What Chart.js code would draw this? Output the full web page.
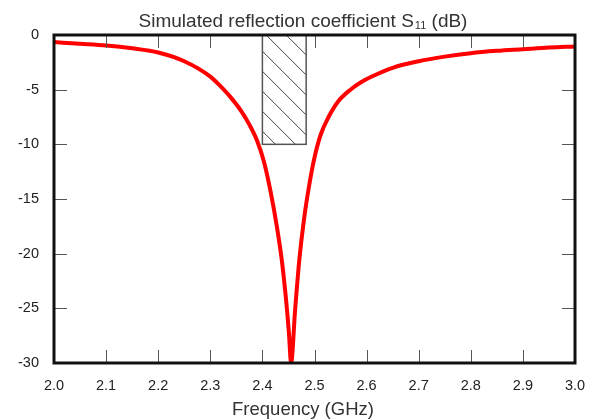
<!DOCTYPE html>
<html>
<head>
<meta charset="utf-8">
<script src="https://cdn.jsdelivr.net/npm/chart.js@4.4.1/dist/chart.umd.min.js"></script>
<style>
  html, body { margin: 0; padding: 0; background: #fff; }
</style>
</head>
<body>
<canvas id="chart" width="602" height="420"></canvas>
<script>
// values
const freqGHz = [2.00, 2.05, 2.10, 2.15, 2.20, 2.25, 2.30, 2.32, 2.34, 2.36, 2.375, 2.39, 2.403, 2.416, 2.428, 2.437, 2.445, 2.451, 2.455,
                 2.463, 2.471, 2.48, 2.49, 2.50, 2.512, 2.527, 2.545, 2.569, 2.59, 2.61, 2.65, 2.70, 2.75, 2.80, 2.85, 2.90, 2.95, 3.00];
const s11dB = [-0.65, -0.8, -0.96, -1.22, -1.6, -2.4, -3.8, -4.7, -5.75, -7.0, -8.2, -9.7, -11.6, -14.4, -17.6, -20.5, -24.0, -27.3, -30.0,
               -25.0, -20.5, -16.8, -13.7, -11.2, -9.1, -7.5, -6.1, -5.0, -4.3, -3.8, -3.0, -2.4, -1.98, -1.66, -1.45, -1.3, -1.15, -1.05];

// hatched band (2.4 GHz band, -10 dB limit)
const maskFreq = [2.40, 2.484];
const maskDb = [0, -10];

const xTicks = [2.0, 2.1, 2.2, 2.3, 2.4, 2.5, 2.6, 2.7, 2.8, 2.9, 3.0];
const yTicks = [0, -5, -10, -15, -20, -25, -30];

const FONT = "'Liberation Sans', Arial, sans-serif";
const TEXT_CX = 303;

const maskPlugin = {
  id: 'mask',
  beforeDatasetsDraw(chart) {
    const { ctx, scales: { x, y } } = chart;
    const x0 = x.getPixelForValue(maskFreq[0]), x1 = x.getPixelForValue(maskFreq[1]);
    const y0 = y.getPixelForValue(maskDb[0]), y1 = y.getPixelForValue(maskDb[1]);
    ctx.save();
    ctx.beginPath();
    ctx.rect(x0, y0, x1 - x0, y1 - y0);
    ctx.clip();
    ctx.strokeStyle = '#444';
    ctx.lineWidth = 1;
    ctx.beginPath();
    for (let k = y0 - (x1 - x0) - 40; k < y1 + 20; k += 20) {
      ctx.moveTo(x0, k);
      ctx.lineTo(x0 + 200, k + 200);
    }
    ctx.stroke();
    ctx.restore();
    ctx.save();
    ctx.strokeStyle = '#555';
    ctx.lineWidth = 1.5;
    ctx.strokeRect(x0, y0, x1 - x0, y1 - y0);
    ctx.restore();
  }
};

const framePlugin = {
  id: 'frame',
  afterDraw(chart) {
    const { ctx, chartArea: a, scales: { x, y } } = chart;
    ctx.save();
    ctx.strokeStyle = '#555';
    ctx.lineWidth = 1;
    ctx.beginPath();
    xTicks.forEach(v => {
      const px = Math.round(x.getPixelForValue(v)) + 0.5;
      ctx.moveTo(px, a.bottom); ctx.lineTo(px, a.bottom - 13);
      ctx.moveTo(px, a.top); ctx.lineTo(px, a.top + 13);
    });
    yTicks.forEach(v => {
      const py = Math.round(y.getPixelForValue(v)) + 0.5;
      ctx.moveTo(a.left, py); ctx.lineTo(a.left + 13, py);
      ctx.moveTo(a.right, py); ctx.lineTo(a.right - 13, py);
    });
    ctx.stroke();
    ctx.strokeStyle = '#111';
    ctx.lineWidth = 3;
    ctx.strokeRect(a.left, a.top, a.right - a.left, a.bottom - a.top);

    // title with subscript
    ctx.fillStyle = '#333';
    ctx.textBaseline = 'alphabetic';
    ctx.textAlign = 'left';
    const base = 27.3;
    const p1 = 'Simulated reflection coefficient S', sub = '11', p2 = ' (dB)';
    ctx.font = '19px ' + FONT;
    const w1 = ctx.measureText(p1).width, w3 = ctx.measureText(p2).width;
    ctx.font = '11px ' + FONT;
    const w2 = ctx.measureText(sub).width + 1;
    const sx = TEXT_CX - (w1 + w2 + w3) / 2;
    ctx.font = '19px ' + FONT;
    ctx.fillText(p1, sx, base);
    ctx.font = '11px ' + FONT;
    ctx.fillText(sub, sx + w1 + 1, base + 2);
    ctx.font = '19px ' + FONT;
    ctx.fillText(p2, sx + w1 + w2, base);

    // x axis title
    ctx.textAlign = 'center';
    ctx.font = '18.5px ' + FONT;
    ctx.fillText('Frequency (GHz)', TEXT_CX, 415);
    ctx.restore();
  }
};

new Chart(document.getElementById('chart').getContext('2d'), {
  type: 'line',
  data: {
    datasets: [{
      data: freqGHz.map((f, i) => ({ x: f, y: s11dB[i] })),
      borderColor: '#ff0000',
      borderWidth: 4,
      pointRadius: 0,
      cubicInterpolationMode: 'monotone',
      clip: 1
    }]
  },
  options: {
    responsive: false,
    animation: false,
    devicePixelRatio: 1,
    layout: { padding: { top: 35, right: 27, left: 0, bottom: 0 } },
    plugins: { legend: { display: false }, tooltip: { enabled: false } },
    scales: {
      x: {
        type: 'linear', min: 2, max: 3,
        afterFit: s => { s.height = 57; },
        afterBuildTicks: s => { s.ticks = xTicks.map(v => ({ value: v })); },
        grid: { display: false, drawTicks: false },
        border: { display: false },
        ticks: { padding: 14, color: '#222', font: { family: FONT, size: 14.5 }, callback: v => v.toFixed(1), maxRotation: 0, autoSkip: false }
      },
      y: {
        type: 'linear', min: -30, max: 0,
        afterFit: s => { s.width = 54; },
        afterBuildTicks: s => { s.ticks = yTicks.map(v => ({ value: v })); },
        grid: { display: false, drawTicks: false },
        border: { display: false },
        ticks: { padding: 15, color: '#222', font: { family: FONT, size: 14.5 } }
      }
    }
  },
  plugins: [maskPlugin, framePlugin]
});
</script>
</body>
</html>
